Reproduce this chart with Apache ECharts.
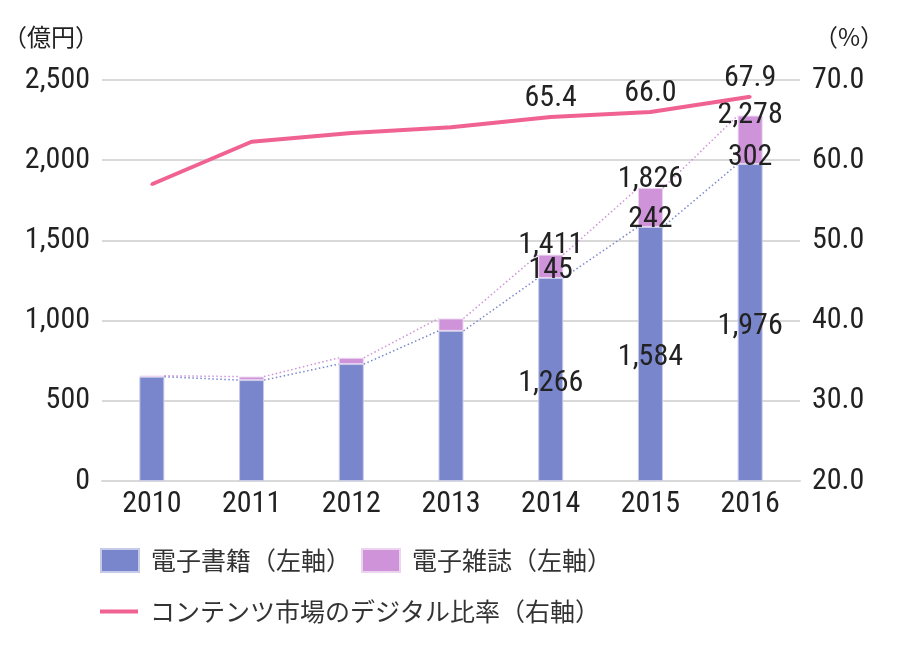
<!DOCTYPE html>
<html>
<head>
<meta charset="utf-8">
<script src="https://cdn.jsdelivr.net/npm/echarts@6/dist/echarts.min.js"></script>
<style>
html,body{margin:0;padding:0;background:#fff;}
#chart{width:900px;height:650px;}
</style>
</head>
<body>
<div id="chart"></div>
<script>
// ---- data ----
const years = ['2010', '2011', '2012', '2013', '2014', '2015', '2016'];
const ebook = [650, 629, 729, 936, 1266, 1584, 1976];            // 電子書籍 (億円)
const magazine = [6, 22, 39, 77, 145, 242, 302];                 // 電子雑誌 (億円)
const digitalRatio = [57.0, 62.3, 63.4, 64.1, 65.4, 66.0, 67.9]; // コンテンツ市場のデジタル比率 (%)
const labeledYears = ['2014', '2015', '2016'];
const seriesNames = ['電子書籍（左軸）', '電子雑誌（左軸）', 'コンテンツ市場のデジタル比率（右軸）'];
const leftAxisName = '（億円）';
const rightAxisName = '（%）';

const totals = ebook.map((v, i) => v + magazine[i]);
const isLabeled = i => labeledYears.indexOf(years[i]) >= 0;

const NUM_FONT = "'Roboto Condensed', Roboto, sans-serif";
const JP_FONT = "'Noto Sans CJK JP', 'Noto Sans', sans-serif";
const C_BOOK = '#7986CB', C_MAG = '#CE93D8', C_LINE = '#F06292';
const BAR_W = 25;
const fmt = v => v.toLocaleString('en-US');

const numLabel = {fontFamily: NUM_FONT, fontSize: 30, color: '#222'};

function connector(values, color) {
  const data = [];
  for (let i = 0; i < values.length - 1; i++) data.push([i, values[i], values[i + 1]]);
  return {
    type: 'custom', yAxisIndex: 0, z: 3, silent: true,
    encode: {x: 0, y: 1},
    data: data,
    renderItem: function (params, api) {
      const i = api.value(0);
      const p0 = api.coord([i, api.value(1)]);
      const p1 = api.coord([i + 1, api.value(2)]);
      return {
        type: 'line',
        shape: {x1: p0[0] + BAR_W / 2, y1: p0[1], x2: p1[0] - BAR_W / 2, y2: p1[1]},
        style: {stroke: color, lineWidth: 1.5, lineDash: [1.5, 2.5]}
      };
    }
  };
}

const chart = echarts.init(document.getElementById('chart'));
chart.setOption({
  animation: false,
  grid: {left: 100, right: 100, top: 80, bottom: 169, containLabel: false},
  legend: [{
    data: [seriesNames[0], seriesNames[1]],
    left: 95, top: 543, itemWidth: 38, itemHeight: 23, itemGap: 10,
    icon: 'rect',
    textStyle: {fontFamily: JP_FONT, fontSize: 25, color: '#333', padding: [0, 0, 0, 7]}
  }, {
    data: [{name: seriesNames[2], icon: 'rect'}],
    left: 95, top: 594, itemWidth: 38, itemHeight: 4,
    textStyle: {fontFamily: JP_FONT, fontSize: 25, color: '#333', padding: [0, 0, 0, 7]}
  }],
  xAxis: {
    type: 'category', data: years,
    axisLine: {lineStyle: {color: '#d9d9d9', width: 2}},
    axisTick: {show: false},
    axisLabel: {fontFamily: NUM_FONT, fontSize: 30, color: '#222', margin: 8}
  },
  yAxis: [{
    type: 'value', min: 0, max: 2500, interval: 500,
    name: leftAxisName, nameLocation: 'end', nameGap: 31,
    nameTextStyle: {fontFamily: JP_FONT, fontSize: 24, color: '#222', align: 'right', padding: [0, 3, 0, 0]},
    axisLine: {show: false}, axisTick: {show: false},
    splitLine: {lineStyle: {color: '#d9d9d9', width: 2}},
    axisLabel: {fontFamily: NUM_FONT, fontSize: 30, color: '#222', margin: 12, formatter: fmt}
  }, {
    type: 'value', min: 20, max: 70, interval: 10,
    name: rightAxisName, nameLocation: 'end', nameGap: 31,
    nameTextStyle: {fontFamily: JP_FONT, fontSize: 24, color: '#222', align: 'left', padding: [0, 0, 0, 14]},
    axisLine: {show: false}, axisTick: {show: false},
    splitLine: {show: false},
    axisLabel: {fontFamily: NUM_FONT, fontSize: 30, color: '#222', margin: 12, formatter: v => v.toFixed(1)}
  }],
  series: [
    connector(ebook, C_BOOK),
    connector(totals, C_MAG),
    {
      name: seriesNames[0], type: 'bar', stack: 'market', barWidth: BAR_W, z: 2,
      itemStyle: {color: C_BOOK, borderColor: '#c5cae9', borderWidth: 1},
      label: Object.assign({position: 'inside', offset: [0, 4]}, numLabel, {formatter: p => fmt(p.value)}),
      data: ebook.map((v, i) => ({value: v, label: {show: isLabeled(i)}}))
    },
    {
      name: seriesNames[1], type: 'bar', stack: 'market', barWidth: BAR_W, z: 2,
      itemStyle: {color: C_MAG, borderColor: '#ecd3f0', borderWidth: 1},
      data: magazine
    },
    {
      // magazine value labels, sitting on the boundary between the two segments
      type: 'scatter', yAxisIndex: 0, symbolSize: 0, z: 5, silent: true,
      itemStyle: {opacity: 1, color: 'transparent'},
      label: Object.assign({show: true, position: 'top', distance: -8}, numLabel,
        {formatter: p => fmt(magazine[p.dataIndex])}),
      data: ebook.map((v, i) => ({value: v, label: {show: isLabeled(i)}}))
    },
    {
      // total labels
      type: 'scatter', yAxisIndex: 0, symbolSize: 0, z: 5, silent: true,
      itemStyle: {opacity: 1, color: 'transparent'},
      label: Object.assign({show: true, position: 'top', distance: -6}, numLabel,
        {formatter: p => fmt(p.value)}),
      data: totals.map((v, i) => ({
        value: v,
        label: i === totals.length - 1 ? {show: isLabeled(i), position: 'inside'} : {show: isLabeled(i)}
      }))
    },
    {
      name: seriesNames[2], type: 'line', yAxisIndex: 1, z: 6,
      symbol: 'circle', symbolSize: 3, showSymbol: true,
      itemStyle: {color: C_LINE},
      lineStyle: {color: C_LINE, width: 4},
      label: Object.assign({position: 'top', distance: 2}, numLabel, {formatter: p => p.value.toFixed(1)}),
      data: digitalRatio.map((v, i) => ({value: v, label: {show: isLabeled(i)}}))
    }
  ]
});
</script>
</body>
</html>
